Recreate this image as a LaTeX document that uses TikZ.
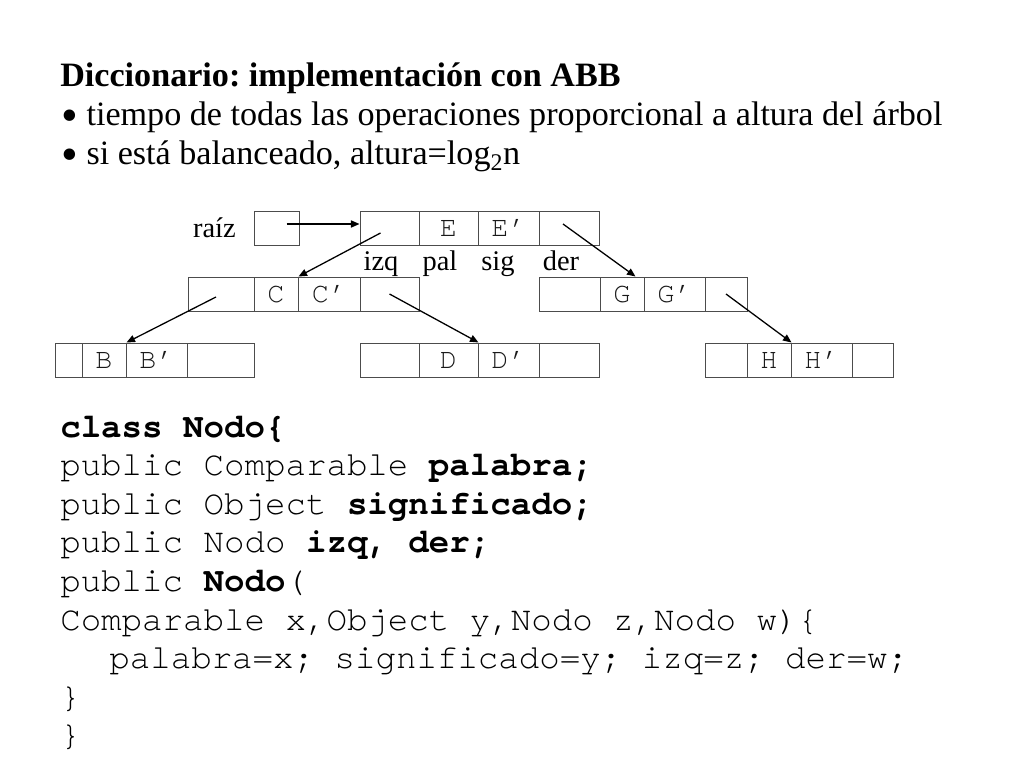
\documentclass[tikz,border=0pt]{standalone}
\usepackage{fontspec}
\setmainfont{Liberation Serif}
\setmonofont{texgyrecursor}[Extension=.otf,UprightFont=*-regular,BoldFont=*-bold,Ligatures=NoCommon]
\usetikzlibrary{arrows.meta,calc}
\newcommand{\pxu}{0.703125pt}
\newcommand{\vineta}{\smash{\raisebox{-3.6pt}{\scalebox{1.4}{•}}}\hspace{6pt}}
\frenchspacing
\tikzset{
  celda/.style={draw=black!70, line width=0.7pt, inner sep=0pt, minimum height=34*\pxu,
    text height=11.5pt, text depth=0pt, font=\fontsize{20}{20}\ttfamily, text=black!90},
  etiqueta/.style={inner sep=0pt, anchor=base, font=\fontsize{20}{20}\selectfont},
  enlace/.style={-{Triangle[length=6pt,width=5pt]}, line width=0.9pt},
  titulo/.style={inner sep=0pt, anchor=base west, font=\fontsize{24}{24}\selectfont},
  codigo/.style={inner sep=0pt, anchor=base west, font=\fontsize{24}{24}\ttfamily},
}
\begin{document}
\begin{tikzpicture}[x=\pxu, y=-\pxu]
\useasboundingbox (0,0) rectangle (1024,768);

% encabezado
\node[titulo, font=\fontsize{24}{24}\bfseries] (titulo) at (60,87) {Diccionario: implementación con ABB};
\node[titulo] (punto1) at (61,126) {\vineta tiempo de todas las operaciones proporcional a altura del árbol};
\node[titulo] (punto2) at (61,165) {\vineta si está balanceado, altura=log\textsubscript{2}n};

% arbol
\node[celda, minimum width=45*\pxu] (raiz) at (276.5,228) {};
\node[etiqueta, anchor=base east] (lab-raiz) at (236,238) {raíz};
\foreach \n/\xa/\xb/\xc/\xd/\xe/\y in {
    E/360/419/478/539/599/228, C/188/254/298/360/419/294, G/539/600/644/705/747/294,
    B/55/82/126/187/254/360, D/360/419/478/539/599/360, H/705/747/791/852/893/360
} {
    \node[celda, minimum width={(\xb-\xa)*\pxu}] (\n-izq) at ({(\xa+\xb)/2},\y) {};
    \node[celda, minimum width={(\xc-\xb)*\pxu}] (\n-pal) at ({(\xb+\xc)/2},\y) {\n};
    \node[celda, minimum width={(\xd-\xc)*\pxu}] (\n-sig) at ({(\xc+\xd)/2},\y) {\n{}’};
    \node[celda, minimum width={(\xe-\xd)*\pxu}] (\n-der) at ({(\xd+\xe)/2},\y) {};
}
\foreach \c/\x in {izq/381, pal/440, sig/498, der/561}
    \node[etiqueta] (lab-\c) at (\x,271) {\c};

\draw[enlace] ($(raiz.center)+(10,-4)$) -- ($(E-izq.west)+(0,-4)$);
\draw[enlace] ($(E-izq.center)+(-9,5)$) -- (C-pal.north east);
\draw[enlace] ($(E-der.center)+(-6,-4)$) -- ($(G-pal.north east)+(-9,0)$);
\draw[enlace] ($(C-izq.center)+(-5,3)$) -- (B-pal.north east);
\draw[enlace] (C-der.center) -- (D-pal.north east);
\draw[enlace] (G-der.center) -- (H-pal.north east);

% clase
\foreach \i/\linea in {
    1/{\textbf{class Nodo\{}},
    2/{public Comparable \textbf{palabra;}},
    3/{public Object \textbf{significado;}},
    4/{public Nodo \textbf{izq, der;}},
    5/{public \textbf{Nodo}(},
    6/{Comparable x,Object y,Nodo z,Nodo w)\{},
    7/{\hspace*{34.5pt}palabra=x; significado=y; izq=z; der=w;},
    8/{\}},
    9/{\}}
} {
    \node[codigo] (linea\i) at (60,{437+38.6*(\i-1)}) {\linea};
}
\end{tikzpicture}
\end{document}
